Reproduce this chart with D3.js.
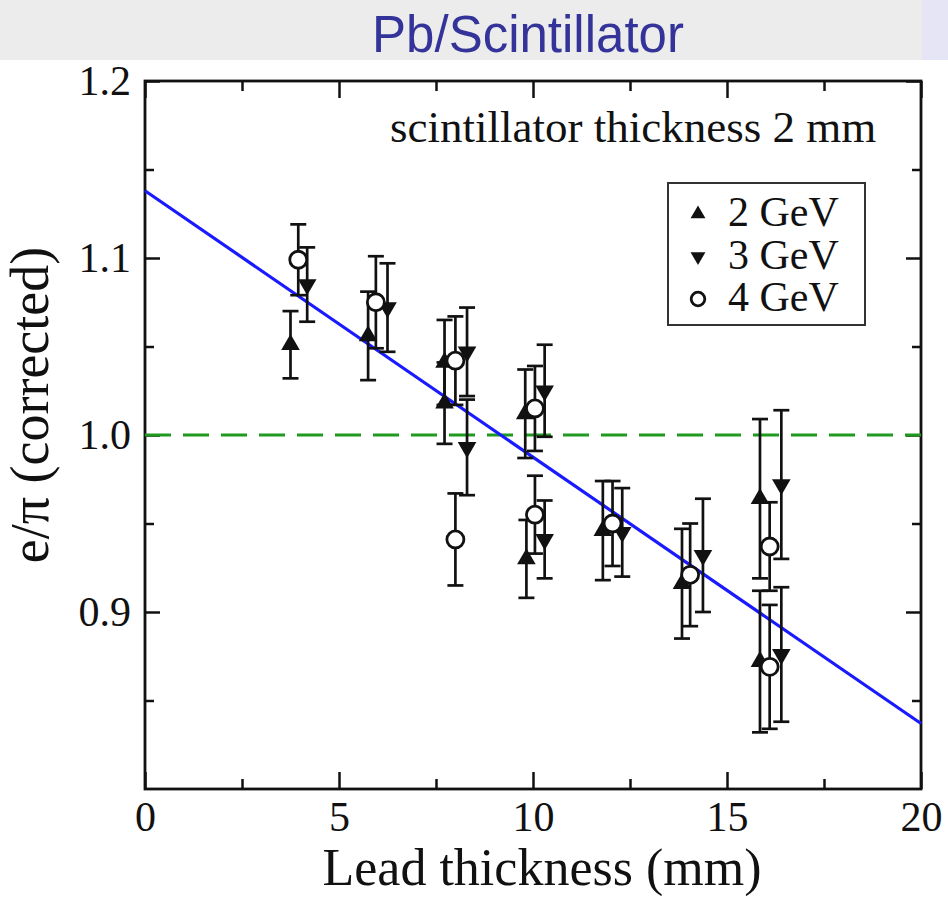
<!DOCTYPE html>
<html>
<head>
<meta charset="utf-8">
<script src="https://cdn.jsdelivr.net/npm/d3@7"></script>
<style>
  body { margin: 0; background: #fff; }
  svg text { font-family: "Liberation Serif", "Times New Roman", serif; fill: #111; }
</style>
</head>
<body>
<div id="chart"></div>
<script>
// data
var seriesNames = ["2 GeV", "3 GeV", "4 GeV"];

var x2GeV = [3.75, 5.75, 7.72, 7.72, 9.8, 9.83, 11.8, 13.84, 15.85, 15.85];
var y2GeV = [1.051, 1.056, 1.041, 1.018, 1.012, 0.930, 0.946, 0.916, 0.964, 0.872];
var e2GeV = [0.019, 0.025, 0.024, 0.023, 0.025, 0.022, 0.028, 0.031, 0.045, 0.040];

var x3GeV = [4.18, 6.25, 8.3, 8.3, 10.3, 10.3, 12.3, 14.38, 16.4, 16.4];
var y3GeV = [1.085, 1.072, 1.047, 0.993, 1.025, 0.941, 0.945, 0.932, 0.972, 0.876];
var e3GeV = [0.021, 0.025, 0.025, 0.027, 0.026, 0.022, 0.025, 0.032, 0.042, 0.038];

var x4GeV = [3.95, 5.95, 8.0, 8.0, 10.05, 10.05, 12.05, 14.05, 16.1, 16.1];
var y4GeV = [1.099, 1.075, 1.042, 0.941, 1.015, 0.955, 0.950, 0.921, 0.937, 0.869];
var e4GeV = [0.020, 0.026, 0.025, 0.026, 0.024, 0.022, 0.024, 0.029, 0.025, 0.035];

// straight line fit and reference level
var fitX = [0, 20];
var fitY = [1.138, 0.837];
var refY = 1.0;

var xMajor = [0, 5, 10, 15, 20];
var xMinor = [2.5, 7.5, 12.5, 17.5];
var yMajor = [0.9, 1.0, 1.1, 1.2];
var yMinor = [0.85, 0.95, 1.05, 1.15];

// dimensions
var W = 948, H = 898;
var pLeft = 145, pRight = 921, pTop = 81, pBottom = 789;

var svg = d3.select("#chart")
  .append("svg")
    .attr("width", W)
    .attr("height", H);

// header band
svg.append("rect").attr("x", 0).attr("y", 0).attr("width", 922).attr("height", 60).attr("fill", "#ececec");
svg.append("rect").attr("x", 922).attr("y", 0).attr("width", 26).attr("height", 60).attr("fill", "#e5e5f6");
svg.append("text")
  .attr("x", 528).attr("y", 52)
  .attr("text-anchor", "middle")
  .style("font-family", "'Liberation Sans', Arial, sans-serif")
  .style("font-size", "51px")
  .style("fill", "#333399")
  .text("Pb/Scintillator");

var x = d3.scaleLinear().domain([0, 20]).range([pLeft, pRight]);
var y = d3.scaleLinear().domain([0.8, 1.2]).range([pBottom, pTop]);

// axes (ticks point inward on all four sides)
function styleAxis(g) {
  g.select(".domain").remove();
  g.selectAll(".tick line").attr("stroke", "#111").attr("stroke-width", 2.5);
  g.selectAll(".tick text").style("font-family", "'Liberation Serif', serif").style("font-size", "42px").attr("fill", "#111");
}

svg.append("g").attr("transform", "translate(0," + pBottom + ")")
  .call(d3.axisBottom(x).tickValues(xMajor).tickSize(-17).tickPadding(12).tickFormat(d3.format("d")))
  .call(styleAxis);
svg.append("g").attr("transform", "translate(0," + pBottom + ")")
  .call(d3.axisBottom(x).tickValues(xMinor).tickSize(-10).tickFormat(""))
  .call(styleAxis);
svg.append("g").attr("transform", "translate(0," + pTop + ")")
  .call(d3.axisTop(x).tickValues(xMajor).tickSize(-17).tickFormat(""))
  .call(styleAxis);
svg.append("g").attr("transform", "translate(0," + pTop + ")")
  .call(d3.axisTop(x).tickValues(xMinor).tickSize(-10).tickFormat(""))
  .call(styleAxis);

svg.append("g").attr("transform", "translate(" + pLeft + ",0)")
  .call(d3.axisLeft(y).tickValues(yMajor).tickSize(-15).tickPadding(14).tickFormat(d3.format(".1f")))
  .call(styleAxis);
svg.append("g").attr("transform", "translate(" + pLeft + ",0)")
  .call(d3.axisLeft(y).tickValues(yMinor).tickSize(-9).tickFormat(""))
  .call(styleAxis);
svg.append("g").attr("transform", "translate(" + pRight + ",0)")
  .call(d3.axisRight(y).tickValues(yMajor).tickSize(-15).tickFormat(""))
  .call(styleAxis);
svg.append("g").attr("transform", "translate(" + pRight + ",0)")
  .call(d3.axisRight(y).tickValues(yMinor).tickSize(-9).tickFormat(""))
  .call(styleAxis);

// frame
svg.append("rect")
  .attr("x", pLeft).attr("y", pTop)
  .attr("width", pRight - pLeft).attr("height", pBottom - pTop)
  .attr("fill", "none").attr("stroke", "#111").attr("stroke-width", 2.8);

// axis titles
svg.append("text")
  .attr("x", 542).attr("y", 885)
  .attr("text-anchor", "middle")
  .style("font-size", "52px")
  .text("Lead thickness (mm)");

svg.append("text")
  .attr("transform", "translate(48,405) rotate(-90)")
  .attr("text-anchor", "middle")
  .style("font-size", "54px")
  .text("e/\u03c0 (corrected)");

// annotation
svg.append("text")
  .attr("x", 390).attr("y", 142)
  .style("font-size", "45px")
  .text("scintillator thickness 2 mm");

// reference line at 1.0
svg.append("line")
  .attr("x1", x(0)).attr("x2", x(20))
  .attr("y1", y(refY)).attr("y2", y(refY))
  .attr("stroke", "#1f9a1f").attr("stroke-width", 3.2)
  .attr("stroke-dasharray", "26,12");

// fit line
svg.append("path")
  .datum(d3.zip(fitX, fitY))
  .attr("fill", "none")
  .attr("stroke", "#1a1aff").attr("stroke-width", 3.2)
  .attr("d", d3.line().x(function (d) { return x(d[0]); }).y(function (d) { return y(d[1]); }));

// data
var sets = [
  { name: seriesNames[0], sym: "up",   xs: x2GeV, ys: y2GeV, es: e2GeV },
  { name: seriesNames[1], sym: "down", xs: x3GeV, ys: y3GeV, es: e3GeV },
  { name: seriesNames[2], sym: "circ", xs: x4GeV, ys: y4GeV, es: e4GeV }
];

function drawMarker(g, sym, k) {
  if (sym === "circ") {
    g.append("circle").attr("r", 8.5 * k).attr("fill", "#fff").attr("stroke", "#111").attr("stroke-width", 2.8);
  } else {
    g.append("path").attr("d", d3.symbol().type(d3.symbolTriangle).size(150 * k * k)())
      .attr("transform", sym === "down" ? "rotate(180)" : null)
      .attr("fill", "#111");
  }
}

sets.forEach(function (s) {
  var pts = s.xs.map(function (v, i) { return { x: v, y: s.ys[i], e: s.es[i] }; });
  var eb = svg.append("g").selectAll("g").data(pts).enter().append("g")
    .attr("stroke", "#111").attr("stroke-width", 2.7);
  eb.append("line")
    .attr("x1", function (d) { return x(d.x); }).attr("x2", function (d) { return x(d.x); })
    .attr("y1", function (d) { return y(d.y - d.e); }).attr("y2", function (d) { return y(d.y + d.e); });
  eb.append("line")
    .attr("x1", function (d) { return x(d.x) - 8; }).attr("x2", function (d) { return x(d.x) + 8; })
    .attr("y1", function (d) { return y(d.y + d.e); }).attr("y2", function (d) { return y(d.y + d.e); });
  eb.append("line")
    .attr("x1", function (d) { return x(d.x) - 8; }).attr("x2", function (d) { return x(d.x) + 8; })
    .attr("y1", function (d) { return y(d.y - d.e); }).attr("y2", function (d) { return y(d.y - d.e); });
});

sets.forEach(function (s) {
  var pts = s.xs.map(function (v, i) { return { x: v, y: s.ys[i] }; });
  svg.append("g").selectAll("g").data(pts).enter().append("g")
    .attr("transform", function (d) { return "translate(" + x(d.x) + "," + y(d.y) + ")"; })
    .each(function () { drawMarker(d3.select(this), s.sym, 1); });
});

// legend
var legend = svg.append("g").attr("transform", "translate(668,183)");
legend.append("rect")
  .attr("width", 197).attr("height", 142)
  .attr("fill", "#fff").attr("stroke", "#333").attr("stroke-width", 2);
var item = legend.selectAll("g.item").data(sets).enter().append("g")
  .attr("class", "item")
  .attr("transform", function (d, i) { return "translate(0," + (i * 42.5) + ")"; });
item.append("g")
  .attr("transform", "translate(30,31)")
  .each(function (d) { drawMarker(d3.select(this), d.sym, 0.8); });
item.append("text")
  .attr("x", 60).attr("y", 43)
  .style("font-size", "42px")
  .text(function (d) { return d.name; });
</script>
</body>
</html>
